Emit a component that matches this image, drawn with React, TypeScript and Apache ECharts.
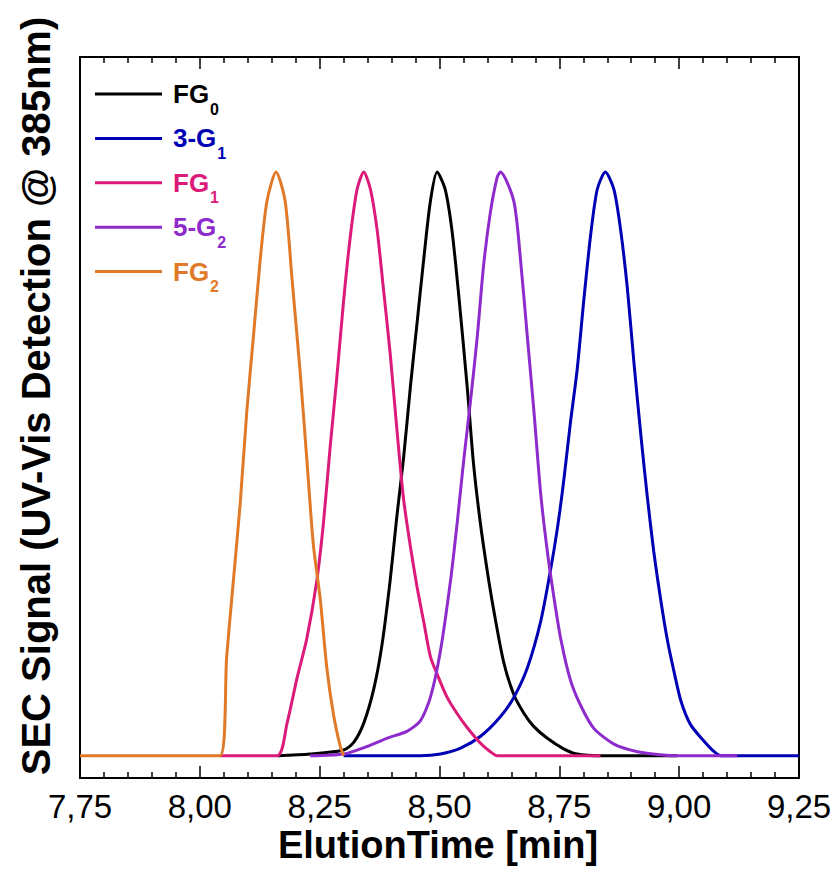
import React, { useEffect, useRef } from "react";
import * as echarts from "echarts";

// ---- data (elution time [min], normalized UV-Vis signal) ----
const seriesNames = ["FG0", "3-G1", "FG1", "5-G2", "FG2"];
const legendMain = ["FG", "3-G", "FG", "5-G", "FG"];
const legendSub = ["0", "1", "1", "2", "2"];
const seriesColors = ["#000000", "#0000b4", "#dc1a7a", "#8e2bcc", "#e07a28"];

const fg0Time = [8.161, 8.23, 8.3, 8.321, 8.342, 8.363, 8.38, 8.397, 8.411, 8.425, 8.439, 8.453, 8.467, 8.481, 8.495, 8.512, 8.526, 8.54, 8.558, 8.571, 8.585, 8.599, 8.613, 8.634, 8.655, 8.676, 8.697, 8.725, 8.759, 8.787, 8.836, 8.996];
const fg0Signal = [0, 0.003, 0.01, 0.023, 0.056, 0.115, 0.19, 0.3, 0.41, 0.51, 0.63, 0.74, 0.85, 0.95, 1.0, 0.97, 0.9, 0.79, 0.63, 0.5, 0.4, 0.32, 0.25, 0.16, 0.105, 0.073, 0.05, 0.03, 0.012, 0.003, 0, 0];

const g31Time = [8.3, 8.46, 8.502, 8.544, 8.585, 8.627, 8.655, 8.683, 8.711, 8.732, 8.746, 8.759, 8.773, 8.787, 8.801, 8.815, 8.829, 8.846, 8.864, 8.878, 8.892, 8.906, 8.92, 8.934, 8.947, 8.961, 8.975, 8.989, 9.004, 9.024, 9.052, 9.073, 9.087, 9.25];
const g31Signal = [0, 0, 0.003, 0.013, 0.033, 0.067, 0.1, 0.15, 0.23, 0.32, 0.39, 0.47, 0.57, 0.66, 0.78, 0.89, 0.97, 1.0, 0.97, 0.9, 0.8, 0.67, 0.55, 0.44, 0.35, 0.27, 0.2, 0.145, 0.093, 0.053, 0.025, 0.007, 0, 0];

const fg1Time = [8.042, 8.161, 8.182, 8.203, 8.223, 8.244, 8.258, 8.272, 8.286, 8.3, 8.314, 8.328, 8.342, 8.356, 8.37, 8.383, 8.397, 8.411, 8.425, 8.439, 8.453, 8.467, 8.481, 8.495, 8.516, 8.537, 8.558, 8.585, 8.606, 8.62, 8.836];
const fg1Signal = [0, 0, 0.056, 0.134, 0.2, 0.3, 0.4, 0.53, 0.65, 0.78, 0.89, 0.97, 1.0, 0.97, 0.9, 0.8, 0.69, 0.56, 0.44, 0.36, 0.29, 0.23, 0.17, 0.14, 0.1, 0.072, 0.048, 0.022, 0.007, 0, 0];

const g52Time = [8.23, 8.3, 8.349, 8.39, 8.432, 8.46, 8.481, 8.502, 8.523, 8.537, 8.551, 8.565, 8.579, 8.592, 8.606, 8.62, 8.627, 8.655, 8.669, 8.683, 8.697, 8.711, 8.725, 8.739, 8.753, 8.773, 8.794, 8.822, 8.864, 8.913, 8.961, 8.996, 9.121];
const g52Signal = [0, 0.003, 0.016, 0.03, 0.042, 0.06, 0.1, 0.18, 0.3, 0.4, 0.51, 0.61, 0.72, 0.84, 0.93, 0.99, 1.0, 0.95, 0.85, 0.72, 0.59, 0.45, 0.35, 0.27, 0.2, 0.13, 0.087, 0.047, 0.02, 0.007, 0.002, 0, 0];

const fg2Time = [7.75, 8.042, 8.056, 8.07, 8.084, 8.098, 8.112, 8.126, 8.14, 8.159, 8.178, 8.192, 8.209, 8.223, 8.237, 8.251, 8.265, 8.279, 8.293, 8.3];
const fg2Signal = [0, 0, 0.17, 0.3, 0.43, 0.59, 0.72, 0.85, 0.95, 1.0, 0.95, 0.82, 0.66, 0.51, 0.36, 0.27, 0.15, 0.07, 0.016, 0];

const xTickMin = 7.75;
const xTickMax = 9.25;
const xTickStep = 0.25;

const xTitle = "ElutionTime [min]";
const yTitle = "SEC Signal (UV-Vis Detection @ 385nm)";

const FONT = "'Liberation Sans', Arial, Helvetica, sans-serif";

function zip(t: number[], v: number[]) {
  return t.map((x, i) => [x, v[i]]);
}

export default function App() {
  const ref = useRef<HTMLDivElement>(null);
  useEffect(() => {
    if (!ref.current) return;
    document.body.style.margin = "0";
    const chart = echarts.init(ref.current, null, { renderer: "svg" });
    const times = [fg0Time, g31Time, fg1Time, g52Time, fg2Time];
    const signals = [fg0Signal, g31Signal, fg1Signal, g52Signal, fg2Signal];

    const rich: Record<string, any> = {};
    seriesNames.forEach((_, i) => {
      rich["m" + i] = {
        fontSize: 26,
        fontWeight: "bold",
        fontFamily: FONT,
        color: seriesColors[i],
        padding: [0, 0, 0, 6],
      };
      rich["s" + i] = {
        fontSize: 16,
        fontWeight: "bold",
        fontFamily: FONT,
        color: seriesColors[i],
        padding: [30, 0, 0, 1],
      };
    });

    const axisLine = { show: true, onZero: false, lineStyle: { color: "#000", width: 2 } };

    chart.setOption({
      animation: false,
      backgroundColor: "#ffffff",
      grid: { left: 80, top: 57, width: 719, height: 721, containLabel: false },
      legend: {
        orient: "vertical",
        left: 95,
        top: 81,
        padding: 0,
        itemWidth: 67,
        itemHeight: 3,
        itemGap: 8.4,
        icon: "rect",
        data: seriesNames,
        formatter: (name: string) => {
          const i = seriesNames.indexOf(name);
          return `{m${i}|${legendMain[i]}}{s${i}|${legendSub[i]}}`;
        },
        textStyle: { rich },
      },
      xAxis: [
        {
          type: "value",
          min: xTickMin,
          max: xTickMax,
          interval: xTickStep,
          position: "bottom",
          axisLine,
          axisTick: { show: true, inside: true, length: 12, lineStyle: { color: "#000", width: 1.5 } },
          minorTick: { show: true, splitNumber: 5, length: 6, lineStyle: { color: "#000", width: 1.5 } },
          splitLine: { show: false },
          axisLabel: {
            show: true,
            margin: 12,
            fontSize: 33,
            fontFamily: FONT,
            color: "#000",
            showMinLabel: true,
            showMaxLabel: true,
            formatter: (v: number) => v.toFixed(2).replace(".", ","),
          },
        },
        {
          type: "value",
          min: xTickMin,
          max: xTickMax,
          interval: xTickStep,
          position: "top",
          axisLine,
          axisTick: { show: true, inside: true, length: 12, lineStyle: { color: "#000", width: 1.5 } },
          minorTick: { show: true, splitNumber: 5, length: 6, lineStyle: { color: "#000", width: 1.5 } },
          splitLine: { show: false },
          axisLabel: { show: false },
        },
      ],
      yAxis: [
        {
          type: "value",
          min: -0.038,
          max: 1.197,
          position: "left",
          axisLine,
          axisTick: { show: false },
          axisLabel: { show: false },
          splitLine: { show: false },
        },
        {
          type: "value",
          min: -0.038,
          max: 1.197,
          position: "right",
          axisLine,
          axisTick: { show: false },
          axisLabel: { show: false },
          splitLine: { show: false },
        },
      ],
      graphic: [
        {
          type: "text",
          x: 438,
          y: 845,
          style: {
            text: xTitle,
            font: `bold 38px ${FONT}`,
            fill: "#000",
            align: "center",
            verticalAlign: "middle",
          },
        },
        {
          type: "text",
          x: 36,
          y: 396,
          rotation: Math.PI / 2,
          style: {
            text: yTitle,
            font: `bold 40px ${FONT}`,
            fill: "#000",
            align: "center",
            verticalAlign: "middle",
          },
        },
      ],
      series: seriesNames.map((name, i) => ({
        name,
        type: "line",
        xAxisIndex: 0,
        yAxisIndex: 0,
        data: zip(times[i], signals[i]),
        showSymbol: false,
        symbol: "none",
        smooth: 0.25,
        lineStyle: { color: seriesColors[i], width: 3 },
        itemStyle: { color: seriesColors[i] },
      })),
    });
    return () => chart.dispose();
  }, []);
  return <div ref={ref} style={{ width: 840, height: 873 }} />;
}
